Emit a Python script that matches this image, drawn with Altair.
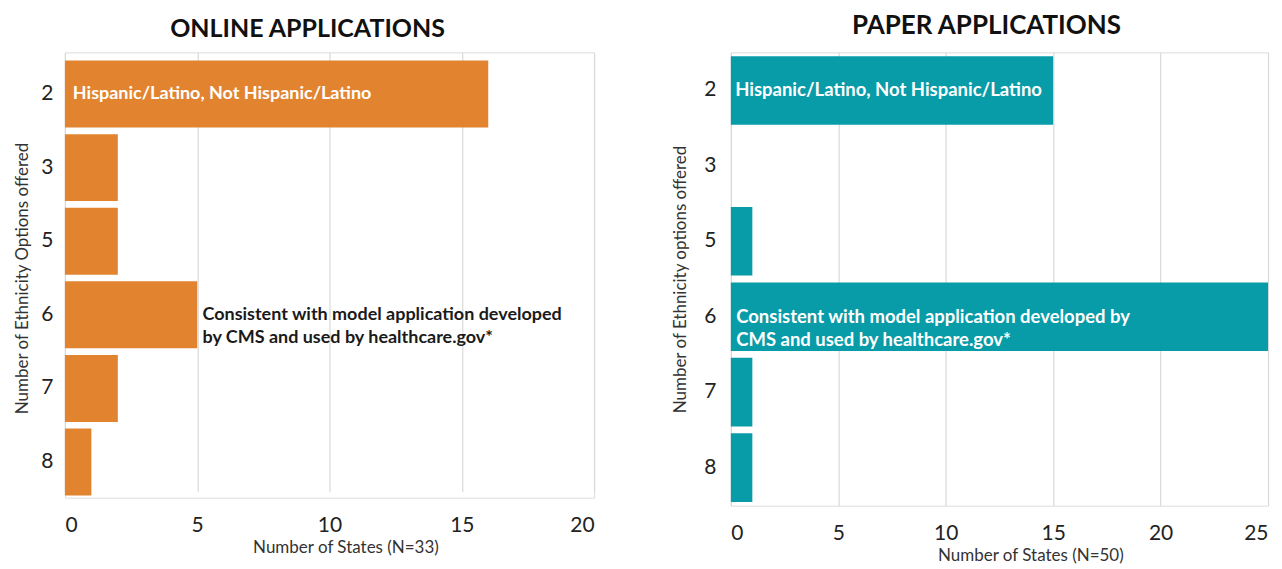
import altair as alt
import pandas as pd

# ---- data ----
cats = ["2", "3", "5", "6", "7", "8"]
online_states = [16, 2, 2, 5, 2, 1]
paper_states = [15, 0, 1, 25, 1, 1]

online_note_cat = ["2", "6"]
online_note_x = [0.3, 5.2]
online_note_text = ["Hispanic/Latino, Not Hispanic/Latino",
                    "Consistent with model application developed\nby CMS and used by healthcare.gov*"]
online_note_color = ["white", "#1a1a1a"]

paper_note_cat = ["2", "6"]
paper_note_x = [0.2, 0.25]
paper_note_text = ["Hispanic/Latino, Not Hispanic/Latino",
                   "Consistent with model application developed by\nCMS and used by healthcare.gov*"]
paper_note_color = ["white", "white"]

FONT = "Lato"
ORANGE = "#E2842F"
TEAL = "#089BA8"


def panel(vals, note_cat, note_x, note_text, note_color, xmax, ticks, color,
          title, xtitle, ytitle, width, height, yrange, xtitle_x, pin, pout,
          lab_pad, ttl_pad, title_dx, title_offset, title_size, note_size):
    df = pd.DataFrame({"cat": cats, "n": vals})
    notes = pd.DataFrame({"cat": note_cat, "x": note_x, "t": note_text, "c": note_color})
    yscale = alt.Scale(paddingInner=pin, paddingOuter=pout, range=yrange)
    yenc = alt.Y("cat:N", sort=cats, scale=yscale,
                 axis=alt.Axis(title=ytitle, labelFontSize=21, labelColor="#222",
                               labelPadding=lab_pad, ticks=False, domain=False, grid=False,
                               titleFontSize=17, titleFontWeight="normal",
                               titleColor="#333", titlePadding=ttl_pad, labelFont=FONT,
                               titleFont=FONT))
    xenc = alt.X("n:Q", scale=alt.Scale(domain=[0, xmax], nice=False),
                 axis=alt.Axis(values=ticks, title=xtitle, labelFontSize=21,
                               labelColor="#222", ticks=False, domain=False,
                               grid=True, gridColor="#d9d9d9", gridWidth=1.2,
                               labelPadding=17, titleFontSize=17,
                               titleFontWeight="normal", titleColor="#333",
                               titlePadding=4, titleX=xtitle_x, labelFont=FONT,
                               titleFont=FONT))
    bars = alt.Chart(df).mark_bar(color=color).encode(x=xenc, y=yenc)
    txt = alt.Chart(notes).mark_text(align="left", baseline="middle", fontSize=note_size,
                                      fontWeight="bold", font=FONT, lineBreak="\n",
                                      lineHeight=23).encode(
        x=alt.X("x:Q"), y=alt.Y("cat:N", sort=cats, scale=yscale),
        text="t:N", color=alt.Color("c:N", scale=None))
    return alt.layer(bars, txt).properties(
        width=width, height=height,
        title=alt.TitleParams(title, fontSize=title_size, fontWeight="bold", font=FONT,
                              color="#111", anchor="middle", offset=title_offset,
                              dx=title_dx))


left = panel(online_states, online_note_cat, online_note_x, online_note_text,
             online_note_color, 20, [0, 5, 10, 15, 20], ORANGE,
             "ONLINE APPLICATIONS", "Number of States (N=33)",
             "Number of Ethnicity Options offered", 530, 446, [6, 446], 281, 0.09, 0.03,
             12, 9, -22, 10, 25, 18)
right = panel(paper_states, paper_note_cat, paper_note_x, paper_note_text,
              paper_note_color, 25, [0, 5, 10, 15, 20, 25], TEAL,
              "PAPER APPLICATIONS", "Number of States (N=50)",
              "Number of Ethnicity options offered", 538, 454, [0, 454], 300, 0.09, 0.05,
              15, 14, -13, 13, 26, 18.5)

chart = alt.hconcat(left, right, spacing=76).configure_view(stroke=None).configure(
    background="white").properties(padding={"left": 5, "top": 4, "right": 5, "bottom": 5})

chart.save("out.html", embed_options={"renderer": "svg", "actions": False})
